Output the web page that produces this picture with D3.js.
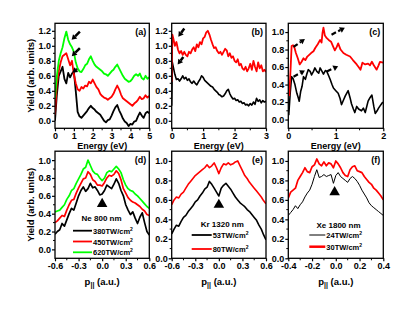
<!DOCTYPE html>
<html><head><meta charset="utf-8">
<script src="https://cdn.jsdelivr.net/npm/d3@7/dist/d3.min.js"></script>
<style>
body{margin:0;background:#fff}
svg{display:block}
text{font-family:"Liberation Sans",Arial,sans-serif;font-weight:bold;fill:#000}
</style>
</head><body>
<svg id="chart" width="413" height="311"></svg>
<script>
// ---------------- data ----------------
const energyA = [0,0.1,0.2,0.3,0.4,0.5,0.6,0.7,0.8,0.9,1.0,1.1,1.2,1.3,1.4,1.5,1.6,1.7,1.8,1.9,2.0,2.1,2.2,2.3,2.4,2.5,2.6,2.7,2.8,2.9,3.0,3.1,3.2,3.3,3.4,3.5,3.6,3.7,3.8,3.9,4.0,4.1,4.2,4.3,4.4,4.5,4.6,4.7,4.8,4.9,5.0];
const aBlack = [0.0,0.35,0.6,0.66,0.72,0.56,0.5,0.64,0.58,0.63,0.66,0.4,0.12,0.06,0.04,0.07,0.1,0.13,0.17,0.2,0.17,0.15,0.12,0.1,0.08,0.04,0.0,-0.02,0.01,0.02,0.07,0.13,0.18,0.21,0.14,0.09,0.03,-0.01,-0.03,-0.07,-0.04,-0.05,-0.01,0.0,0.06,0.11,0.07,0.04,0.1,0.12,0.1];
const aRed = [0.08,0.5,0.66,0.78,0.86,0.88,0.9,0.82,0.74,0.8,0.62,0.5,0.42,0.4,0.45,0.43,0.47,0.46,0.52,0.5,0.55,0.5,0.45,0.42,0.36,0.33,0.31,0.3,0.28,0.3,0.32,0.36,0.42,0.47,0.42,0.35,0.3,0.28,0.26,0.24,0.22,0.2,0.23,0.25,0.28,0.32,0.29,0.3,0.34,0.31,0.33];
const aGreen = [0.3,0.6,0.8,0.9,0.98,1.1,1.19,1.08,1.02,0.98,0.92,0.78,0.7,0.66,0.65,0.69,0.74,0.76,0.82,0.86,0.8,0.75,0.72,0.7,0.68,0.66,0.63,0.62,0.6,0.63,0.66,0.68,0.72,0.75,0.7,0.65,0.6,0.56,0.54,0.52,0.53,0.56,0.6,0.62,0.6,0.63,0.57,0.55,0.6,0.56,0.58];

const bRed = [[0,0.52],[0.02,1.15],[0.05,1.1],[0.1,1.0],[0.15,1.05],[0.2,0.95],[0.25,0.9],[0.3,0.93],[0.35,0.88],[0.4,0.92],[0.45,0.88],[0.5,0.86],[0.55,0.92],[0.6,0.9],[0.65,0.95],[0.7,0.98],[0.75,0.93],[0.8,1.02],[0.85,0.98],[0.9,1.05],[0.95,1.02],[1.0,1.1],[1.05,1.12],[1.1,1.18],[1.15,1.2],[1.2,1.15],[1.25,1.08],[1.3,1.02],[1.35,0.97],[1.4,0.98],[1.45,0.93],[1.5,0.9],[1.55,0.92],[1.6,0.88],[1.65,0.92],[1.7,0.96],[1.75,0.94],[1.8,0.86],[1.85,0.9],[1.9,0.84],[1.95,0.86],[2.0,0.8],[2.05,0.78],[2.1,0.82],[2.15,0.74],[2.2,0.76],[2.25,0.7],[2.3,0.68],[2.35,0.72],[2.4,0.66],[2.45,0.7],[2.5,0.76],[2.55,0.68],[2.6,0.8],[2.65,0.72],[2.7,0.66],[2.75,0.78],[2.8,0.7],[2.85,0.74],[2.9,0.66],[2.95,0.68],[3.0,0.65]];
const bBlack = [[0,0.2],[0.02,0.78],[0.05,0.72],[0.1,0.62],[0.15,0.55],[0.2,0.56],[0.25,0.53],[0.3,0.56],[0.35,0.6],[0.4,0.56],[0.45,0.58],[0.5,0.54],[0.55,0.56],[0.6,0.52],[0.65,0.5],[0.7,0.53],[0.75,0.5],[0.8,0.48],[0.85,0.52],[0.9,0.55],[0.95,0.6],[1.0,0.58],[1.05,0.54],[1.1,0.52],[1.15,0.5],[1.2,0.48],[1.25,0.46],[1.3,0.45],[1.35,0.42],[1.4,0.4],[1.45,0.38],[1.5,0.35],[1.55,0.34],[1.6,0.32],[1.65,0.33],[1.7,0.36],[1.75,0.4],[1.8,0.42],[1.85,0.36],[1.9,0.32],[1.95,0.29],[2.0,0.3],[2.05,0.27],[2.1,0.28],[2.15,0.25],[2.2,0.26],[2.25,0.23],[2.3,0.24],[2.35,0.21],[2.4,0.22],[2.45,0.2],[2.5,0.23],[2.55,0.21],[2.6,0.25],[2.65,0.22],[2.7,0.3],[2.75,0.26],[2.8,0.28],[2.85,0.24],[2.9,0.27],[2.95,0.25],[3.0,0.26]];

const cRed = [[0.02,0.27],[0.05,0.6],[0.07,0.84],[0.1,0.85],[0.13,0.82],[0.16,0.76],[0.2,0.7],[0.24,0.63],[0.28,0.66],[0.32,0.7],[0.36,0.68],[0.4,0.72],[0.44,0.74],[0.48,0.76],[0.53,0.78],[0.57,0.82],[0.62,0.86],[0.67,0.91],[0.7,0.88],[0.72,0.99],[0.74,1.05],[0.77,0.96],[0.81,0.93],[0.85,0.91],[0.9,0.89],[0.94,0.84],[0.98,0.79],[1.02,0.83],[1.05,0.87],[1.1,0.8],[1.16,0.76],[1.22,0.74],[1.3,0.72],[1.36,0.68],[1.44,0.63],[1.48,0.6],[1.52,0.57],[1.56,0.65],[1.62,0.63],[1.68,0.64],[1.72,0.62],[1.76,0.66],[1.8,0.62],[1.86,0.57],[1.9,0.62],[1.93,0.66],[2.0,0.65]];
const cBlack = [[0.01,0.05],[0.04,0.3],[0.07,0.49],[0.1,0.47],[0.14,0.4],[0.18,0.3],[0.21,0.25],[0.23,0.21],[0.26,0.32],[0.29,0.38],[0.32,0.49],[0.36,0.46],[0.39,0.52],[0.42,0.57],[0.46,0.55],[0.49,0.51],[0.53,0.55],[0.56,0.59],[0.6,0.55],[0.64,0.53],[0.67,0.59],[0.71,0.55],[0.74,0.52],[0.78,0.56],[0.81,0.55],[0.85,0.5],[0.88,0.46],[0.92,0.4],[0.95,0.36],[1.0,0.33],[1.05,0.3],[1.09,0.24],[1.12,0.17],[1.16,0.22],[1.2,0.27],[1.26,0.33],[1.3,0.25],[1.33,0.18],[1.37,0.12],[1.4,0.08],[1.44,0.15],[1.48,0.12],[1.54,0.1],[1.58,0.13],[1.62,0.08],[1.68,0.21],[1.72,0.25],[1.76,0.28],[1.8,0.15],[1.83,0.07],[1.87,0.1],[1.9,0.13],[1.95,0.17],[1.99,0.2]];

const momentumDE = [-0.60,-0.57,-0.54,-0.51,-0.48,-0.45,-0.42,-0.39,-0.36,-0.33,-0.30,-0.27,-0.24,-0.21,-0.18,-0.15,-0.12,-0.09,-0.06,-0.03,0.00,0.03,0.06,0.09,0.12,0.15,0.18,0.21,0.24,0.27,0.30,0.33,0.36,0.39,0.42,0.45,0.48,0.51,0.54,0.57,0.60];
const dBlack = [0.17,0.2,0.22,0.29,0.26,0.33,0.4,0.46,0.44,0.52,0.6,0.66,0.7,0.65,0.68,0.74,0.69,0.7,0.66,0.61,0.62,0.66,0.72,0.7,0.68,0.73,0.79,0.74,0.66,0.6,0.5,0.44,0.39,0.42,0.35,0.29,0.36,0.41,0.3,0.2,0.16];
const dRed = [0.3,0.32,0.35,0.38,0.37,0.44,0.5,0.55,0.56,0.63,0.69,0.74,0.79,0.8,0.87,0.84,0.78,0.76,0.72,0.72,0.71,0.75,0.8,0.83,0.82,0.84,0.88,0.85,0.78,0.68,0.63,0.58,0.55,0.53,0.52,0.5,0.48,0.45,0.43,0.39,0.38];
const dGreen = [0.42,0.43,0.44,0.47,0.5,0.56,0.6,0.66,0.68,0.74,0.79,0.84,0.9,0.92,1.0,0.94,0.88,0.85,0.84,0.8,0.77,0.8,0.86,0.88,0.87,0.9,0.93,0.9,0.86,0.78,0.72,0.68,0.66,0.65,0.62,0.6,0.57,0.54,0.51,0.48,0.46];
const eBlack = [0.25,0.3,0.34,0.33,0.38,0.42,0.44,0.48,0.51,0.54,0.58,0.6,0.64,0.67,0.71,0.73,0.79,0.76,0.72,0.68,0.64,0.72,0.75,0.77,0.74,0.71,0.67,0.63,0.6,0.57,0.55,0.53,0.5,0.48,0.45,0.42,0.39,0.34,0.3,0.24,0.19];
const eRed = [0.55,0.6,0.63,0.62,0.66,0.68,0.72,0.76,0.79,0.82,0.85,0.87,0.89,0.91,0.93,0.96,0.93,0.95,0.98,0.93,0.87,0.93,0.97,0.96,0.98,0.96,0.97,0.99,1.0,0.95,0.9,0.85,0.82,0.78,0.75,0.72,0.69,0.66,0.63,0.59,0.56];

const momentumF = [-0.40,-0.38,-0.36,-0.34,-0.32,-0.30,-0.28,-0.26,-0.24,-0.22,-0.20,-0.18,-0.16,-0.14,-0.12,-0.10,-0.08,-0.06,-0.04,-0.02,0.00,0.02,0.04,0.06,0.08,0.10,0.12,0.14,0.16,0.18,0.20,0.22,0.24,0.26,0.28,0.30,0.32,0.34,0.36,0.38,0.40];
const fBlack = [0.44,0.47,0.5,0.54,0.51,0.55,0.58,0.63,0.67,0.7,0.76,0.84,0.91,0.83,0.84,0.86,0.84,0.85,0.86,0.77,0.85,0.88,0.84,0.82,0.8,0.78,0.82,0.84,0.82,0.79,0.75,0.7,0.66,0.62,0.57,0.54,0.52,0.5,0.48,0.46,0.44];
const fRed = [0.62,0.68,0.7,0.72,0.8,0.84,0.88,0.93,0.89,0.88,0.94,0.96,1.02,0.97,0.95,0.99,0.95,0.98,0.97,0.93,1.0,0.97,0.93,0.88,0.85,0.84,0.91,0.94,0.95,0.9,0.89,0.88,0.84,0.81,0.78,0.76,0.72,0.7,0.67,0.64,0.6];

// arrows [tail, head] in data coordinates
const aArrows = [[[1.32,1.19],[0.88,1.08]],[[1.32,0.97],[0.89,0.86]],[[1.17,0.69],[0.92,0.64]]];
const bArrows = [[[0.40,1.23],[0.21,1.12]],[[0.37,0.85],[0.19,0.75]]];
const cDashes = [[[0.11,0.83],[0.35,0.92]],[[0.91,0.97],[1.19,1.05]],[[0.11,0.49],[0.35,0.56]],[[0.81,0.55],[1.05,0.61]]];
// triangle markers (p, yield)
const dTriangle = [0.0,0.51];
const eTriangle = [0.0,0.55];
const fTriangle = [-0.01,0.68];

// ticks
const energyTicksA = [0,1,2,3,4,5], energyMinorA = [0.5,1.5,2.5,3.5,4.5];
const energyTicksB = [0,1,2,3], energyMinorB = [0.5,1.5,2.5];
const energyTicksC = [0,1,2], energyMinorC = [0.5,1.5];
const yieldTicksAB = [0,0.2,0.4,0.6,0.8,1.0,1.2], yieldMinorAB = [-0.1,0.1,0.3,0.5,0.7,0.9,1.1,1.3];
const yieldTicks = [0,0.2,0.4,0.6,0.8,1.0], yieldMinor = [-0.1,0.1,0.3,0.5,0.7,0.9,1.1];
const momentumTicksDE = [-0.6,-0.3,0,0.3,0.6], momentumMinorDE = [-0.45,-0.15,0.15,0.45];
const momentumTicksF = [-0.4,-0.2,0,0.2,0.4], momentumMinorF = [-0.3,-0.1,0.1,0.3];
const momentumLabelsDE = ["-0.6","-0.3","0.0","0.3","0.6"];
const momentumLabelsF = ["-0.4","-0.2","0.0","0.2","0.4"];

const legendD = {title:"Ne 800 nm", items:["380TW/cm","450TW/cm","620TW/cm"]};
const legendE = {title:"Kr 1320 nm", items:["53TW/cm","80TW/cm"]};
const legendF = {title:"Xe 1800 nm", items:["24TW/cm","30TW/cm"]};

// ---------------- drawing ----------------
const svg = d3.select("#chart");
const zip = (xs, ys) => xs.map((x,i)=>[x, ys[i]]);

function panel(o){
  const [L,T,R,B] = o.box;
  const x = d3.scaleLinear().domain(o.xd).range([L,R]);
  const y = d3.scaleLinear().domain(o.yd).range([B,T]);
  const g = svg.append("g");
  const clipId = "clip"+o.name;
  svg.append("clipPath").attr("id",clipId).append("rect").attr("x",L).attr("y",T).attr("width",R-L).attr("height",B-T);
  const line = d3.line().x(d=>x(d[0])).y(d=>y(d[1]));
  const plot = g.append("g").attr("clip-path",`url(#${clipId})`);
  o.series.forEach(s=>{
    plot.append("path").datum(s.data).attr("d",line).attr("fill","none")
      .attr("stroke",s.color).attr("stroke-width",s.w).attr("stroke-linejoin","round");
  });
  // axes
  const xa = d3.axisBottom(x).tickValues(o.xt).tickSize(3).tickPadding(1)
    .tickFormat((d,i)=>o.xl ? o.xl[i] : String(d));
  const ya = d3.axisLeft(y).tickValues(o.yt).tickSize(3).tickPadding(1).tickFormat(d3.format(".1f"));
  const gx = g.append("g").attr("transform",`translate(0,${B})`).call(xa);
  const gy = g.append("g").attr("transform",`translate(${L},0)`).call(ya);
  [gx,gy].forEach(a=>{
    a.select(".domain").remove();
    a.selectAll("line").attr("stroke","#000").attr("stroke-width",1.2);
    a.selectAll("text").style("font-size","9px").style("font-weight","bold")
      .style("font-family",'"Liberation Sans",Arial,sans-serif');
  });
  // minor ticks
  g.append("g").selectAll("line").data(o.xm).join("line")
    .attr("x1",d=>x(d)).attr("x2",d=>x(d)).attr("y1",B).attr("y2",B+2)
    .attr("stroke","#000").attr("stroke-width",1);
  g.append("g").selectAll("line").data(o.ym.filter(v=>v>o.yd[0]&&v<o.yd[1])).join("line")
    .attr("y1",d=>y(d)).attr("y2",d=>y(d)).attr("x1",L).attr("x2",L-2)
    .attr("stroke","#000").attr("stroke-width",1);
  // frame
  g.append("rect").attr("x",L).attr("y",T).attr("width",R-L).attr("height",B-T)
    .attr("fill","none").attr("stroke","#000").attr("stroke-width",1.3);
  // panel label
  g.append("text").attr("x",R-3).attr("y",T+12).attr("text-anchor","end")
    .style("font-size","9px").text(o.label);
  // axis title
  if(o.xtitle==="E"){
    g.append("text").attr("x",(L+R)/2).attr("y",B+20.5).attr("text-anchor","middle")
      .style("font-size","9px").text("Energy (eV)");
  } else {
    const t = g.append("text").attr("x",(L+R)/2).attr("y",B+27).attr("text-anchor","middle")
      .style("font-size","9.5px");
    t.append("tspan").text("p");
    t.append("tspan").attr("dy",2).style("font-size","7px").text("||");
    t.append("tspan").attr("dy",-2).text(" (a.u.)");
  }
  return {x,y,g};
}

// arrow helper
function arrow(p, a, w, dashed){
  const x1=p.x(a[0][0]), y1=p.y(a[0][1]), x2=p.x(a[1][0]), y2=p.y(a[1][1]);
  const ang = Math.atan2(y2-y1,x2-x1), hl=5, hw=3;
  const bx = x2 - hl*Math.cos(ang), by = y2 - hl*Math.sin(ang);
  p.g.append("line").attr("x1",x1).attr("y1",y1).attr("x2",bx).attr("y2",by)
    .attr("stroke","#000").attr("stroke-width",w).attr("stroke-dasharray",dashed?"5,2.5":null);
  p.g.append("path").attr("d",`M${x2},${y2}L${bx+hw*Math.sin(ang)},${by-hw*Math.cos(ang)}L${bx-hw*Math.sin(ang)},${by+hw*Math.cos(ang)}Z`)
    .attr("fill","#000");
}

const pa = panel({name:"a",box:[55,23.3,149.3,128.3],xd:[0,5],yd:[-0.1,1.3],xt:energyTicksA,xm:energyMinorA,yt:yieldTicksAB,ym:yieldMinorAB,label:"(a)",xtitle:"E",
  series:[{data:zip(energyA,aBlack),color:"#000",w:1.8},{data:zip(energyA,aRed),color:"#ff0000",w:1.8},{data:zip(energyA,aGreen),color:"#00ff00",w:1.8}]});
aArrows.forEach(a=>arrow(pa,a,2.5,false));

const pb = panel({name:"b",box:[171.7,23.3,266,128.3],xd:[0,3],yd:[-0.1,1.3],xt:energyTicksB,xm:energyMinorB,yt:yieldTicksAB,ym:yieldMinorAB,label:"(b)",xtitle:"E",
  series:[{data:bBlack,color:"#000",w:1.6},{data:bRed,color:"#ff0000",w:1.8}]});
bArrows.forEach(a=>arrow(pb,a,2.5,false));

const pc = panel({name:"c",box:[288.3,23.3,383.3,128.3],xd:[0,2],yd:[-0.1,1.1],xt:energyTicksC,xm:energyMinorC,yt:yieldTicks,ym:yieldMinor,label:"(c)",xtitle:"E",
  series:[{data:cBlack,color:"#000",w:1.6},{data:cRed,color:"#ff0000",w:1.8}]});
cDashes.forEach(a=>arrow(pc,a,2.2,true));

const pd = panel({name:"d",box:[55,151.2,149.3,258.3],xd:[-0.6,0.6],yd:[-0.1,1.1],xt:momentumTicksDE,xl:momentumLabelsDE,xm:momentumMinorDE,yt:yieldTicks,ym:yieldMinor,label:"(d)",xtitle:"p",
  series:[{data:zip(momentumDE,dBlack),color:"#000",w:1.7},{data:zip(momentumDE,dRed),color:"#ff0000",w:1.7},{data:zip(momentumDE,dGreen),color:"#00ff00",w:1.7}]});
const pe = panel({name:"e",box:[171.7,151.2,266,258.3],xd:[-0.6,0.6],yd:[0,1.1],xt:momentumTicksDE,xl:momentumLabelsDE,xm:momentumMinorDE,yt:yieldTicks,ym:yieldMinor,label:"(e)",xtitle:"p",
  series:[{data:zip(momentumDE,eBlack),color:"#000",w:1.6},{data:zip(momentumDE,eRed),color:"#ff0000",w:1.6}]});
const pf = panel({name:"f",box:[288.3,151.2,383.3,258.3],xd:[-0.4,0.4],yd:[0,1.1],xt:momentumTicksF,xl:momentumLabelsF,xm:momentumMinorF,yt:yieldTicks,ym:yieldMinor,label:"(f)",xtitle:"p",
  series:[{data:zip(momentumF,fBlack),color:"#000",w:1},{data:zip(momentumF,fRed),color:"#ff0000",w:1.7}]});

// triangles
[[pd,dTriangle],[pe,eTriangle],[pf,fTriangle]].forEach(([p,t])=>{
  p.g.append("path").attr("d",d3.symbol(d3.symbolTriangle,48)())
    .attr("transform",`translate(${p.x(t[0])},${p.y(t[1])})`).attr("fill","#000");
});

// legends
function legend(p, lg, colors, widths, lx, ty, ly, lw, dy){
  p.g.append("text").attr("x",lx+lw*0.45).attr("y",ty).style("font-size","8px").text(lg.title);
  lg.items.forEach((s,i)=>{
    const yy = ly + i*dy;
    p.g.append("line").attr("x1",lx).attr("x2",lx+lw).attr("y1",yy).attr("y2",yy)
      .attr("stroke",colors[i]).attr("stroke-width",widths[i]);
    const t = p.g.append("text").attr("x",lx+lw+1).attr("y",yy+3).style("font-size","7.5px");
    t.append("tspan").text(s);
    t.append("tspan").attr("dy",-3).style("font-size","5px").text("2");
  });
}
legend(pd, legendD, ["#000","#ff0000","#00ff00"], [1.8,1.8,1.8], 73, 221, 230.7, 19, 10.8);
legend(pe, legendE, ["#000","#ff0000"], [1.8,1.8], 191.7, 227, 235, 20, 14);
legend(pf, legendF, ["#000","#ff0000"], [1,2.5], 309.3, 228, 235, 16, 11.7);

// y titles
[[30,75.8],[30,204.8]].forEach(([cx,cy])=>{
  svg.append("text").attr("transform",`translate(${cx+3.5},${cy}) rotate(-90)`)
    .attr("text-anchor","middle").style("font-size","9.5px").text("Yield (arb. units)");
});
</script>
</body></html>
